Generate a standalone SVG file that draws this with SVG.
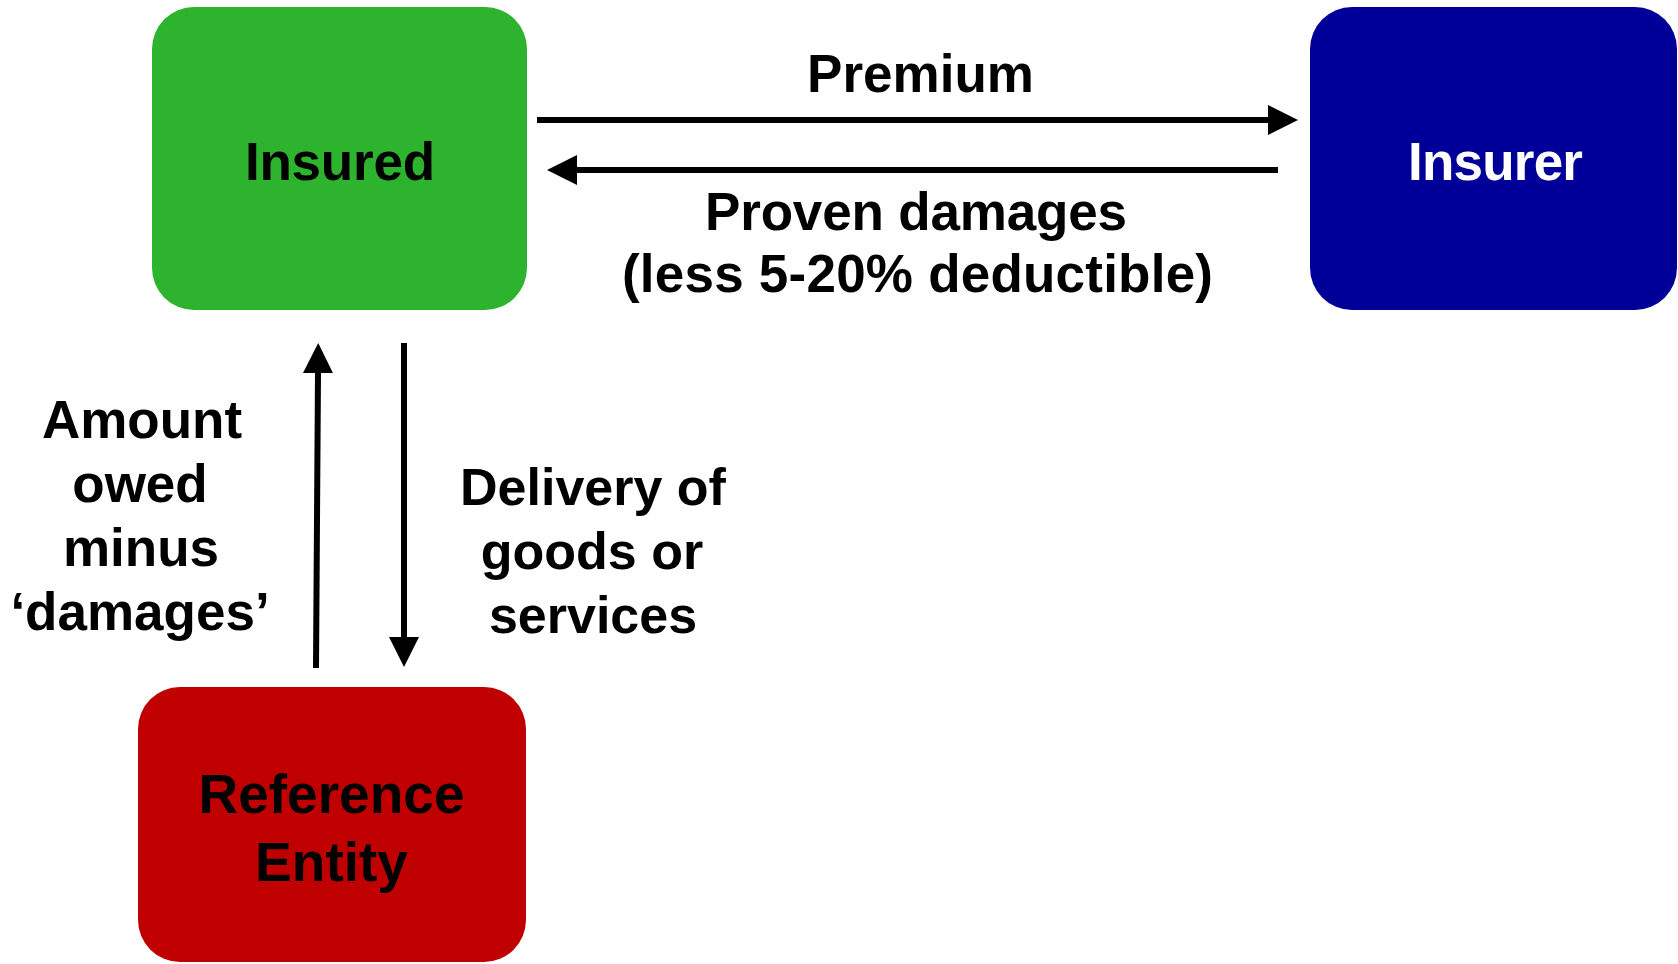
<svg xmlns="http://www.w3.org/2000/svg" width="1678" height="964" viewBox="0 0 1678 964">
<style>
.t{font-family:"Liberation Sans",Arial,Helvetica,sans-serif;font-weight:bold;fill:#000;text-anchor:middle}
.w{fill:#fff}
.c{stroke:#000;stroke-width:6;fill:none}
</style>
<defs>
<marker id="ah" viewBox="0 0 30 30" refX="0" refY="15" markerWidth="30" markerHeight="30" markerUnits="userSpaceOnUse" orient="auto">
<path d="M0,0 L30,15 L0,30 z" fill="#000"/>
</marker>
</defs>
<rect width="1678" height="964" fill="#fff"/>
<g id="insured">
<rect x="152" y="7" width="375" height="303" rx="42" ry="42" fill="#2eb32e"/>
<text class="t" x="340" y="180" font-size="53" textLength="190">Insured</text>
</g>
<g id="insurer">
<rect x="1310" y="7" width="367" height="303" rx="42" ry="42" fill="#000099"/>
<text class="t w" x="1495.5" y="180" font-size="53" textLength="175">Insurer</text>
</g>
<g id="reference-entity">
<rect x="138" y="687" width="388" height="275" rx="42" ry="42" fill="#c00000"/>
<text class="t" x="331.5" y="813" font-size="55">Reference</text>
<text class="t" x="331.5" y="881" font-size="55">Entity</text>
</g>
<g id="connectors">
<line class="c" x1="537" y1="120" x2="1268" y2="120" marker-end="url(#ah)"/>
<line class="c" x1="1278" y1="170" x2="577" y2="170" marker-end="url(#ah)"/>
<line class="c" x1="316" y1="668" x2="318" y2="373" marker-end="url(#ah)"/>
<line class="c" x1="404" y1="343" x2="404" y2="637" marker-end="url(#ah)"/>
</g>
<g id="labels">
<text class="t" x="920.5" y="92" font-size="53">Premium</text>
<text class="t" x="916" y="230" font-size="53" textLength="422">Proven damages</text>
<text class="t" x="917.5" y="292" font-size="53" textLength="591">(less 5-20% deductible)</text>
<text class="t" x="142" y="438" font-size="53">Amount</text>
<text class="t" x="140" y="502" font-size="53">owed</text>
<text class="t" x="141" y="566" font-size="53">minus</text>
<text class="t" x="140" y="630" font-size="53">‘damages’</text>
<text class="t" x="593" y="505" font-size="52">Delivery of</text>
<text class="t" x="592" y="569" font-size="52">goods or</text>
<text class="t" x="593" y="633" font-size="52">services</text>
</g>
</svg>
